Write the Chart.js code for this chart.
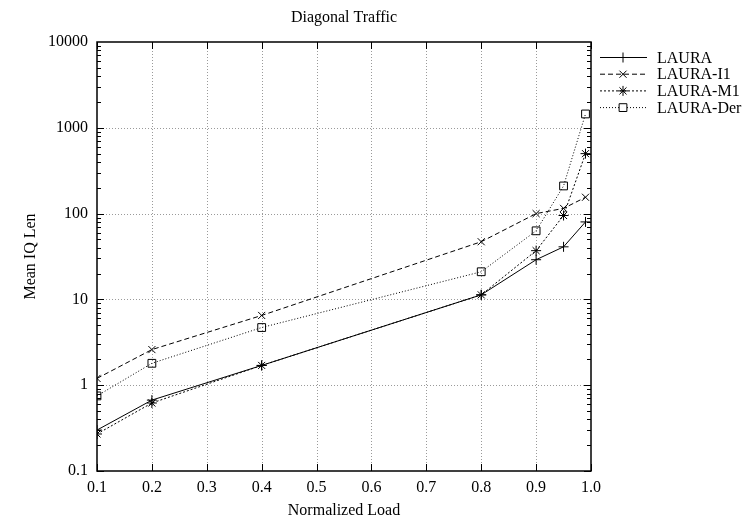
<!DOCTYPE html>
<html>
<head>
<meta charset="utf-8">
<script src="https://cdn.jsdelivr.net/npm/chart.js@4/dist/chart.umd.min.js"></script>
<style>
  html, body { margin: 0; padding: 0; background: #fff; }
  #wrap { width: 746px; height: 520px; }
</style>
</head>
<body>
<div id="wrap"><canvas id="chart" width="746" height="520"></canvas></div>
<script>
const loads = [0.1, 0.2, 0.4, 0.8, 0.9, 0.95, 0.99];
const laura = [0.30, 0.67, 1.7, 11.3, 29, 41, 80];
const lauraI1 = [1.2, 2.6, 6.5, 47, 100, 115, 155];
const lauraM1 = [0.27, 0.62, 1.7, 11.3, 37, 95, 500];
const lauraDer = [0.75, 1.8, 4.7, 21, 63, 210, 1450];
const xTicks = [0.1, 0.2, 0.3, 0.4, 0.5, 0.6, 0.7, 0.8, 0.9, 1.0];
const yTicks = [0.1, 1, 10, 100, 1000, 10000];

const FONT = "'Liberation Serif', 'DejaVu Serif', serif";
const pts = (ys) => loads.map((x, i) => ({ x, y: ys[i] }));

const series = [
  { label: "LAURA", data: laura, dash: [], style: "cross", r: 5 },
  { label: "LAURA-I1", data: lauraI1, dash: [5, 3], style: "crossRot", r: 5 },
  { label: "LAURA-M1", data: lauraM1, dash: [2, 2], style: "star", r: 5 },
  { label: "LAURA-Der", data: lauraDer, dash: [1, 2], style: "rect", r: 5.5 },
];

// inner ticks, dotted grid, frame and right-hand legend
const framePlugin = {
  id: "frame",
  beforeDatasetsDraw(chart) {
    const { ctx, chartArea: a, scales } = chart;
    const x = scales.x, y = scales.y;
    ctx.save();
    ctx.strokeStyle = "#9a9a9a";
    ctx.lineWidth = 1;
    ctx.setLineDash([1, 2]);
    xTicks.slice(1, -1).forEach((v) => {
      const px = Math.round(x.getPixelForValue(v)) + 0.5;
      ctx.beginPath(); ctx.moveTo(px, a.top); ctx.lineTo(px, a.bottom); ctx.stroke();
    });
    yTicks.slice(1, -1).forEach((v) => {
      const py = Math.round(y.getPixelForValue(v)) + 0.5;
      ctx.beginPath(); ctx.moveTo(a.left, py); ctx.lineTo(a.right, py); ctx.stroke();
    });
    ctx.setLineDash([]);
    ctx.strokeStyle = "#000";
    // y ticks, major and minor
    for (let d = 0.1; d < 10000; d *= 10) {
      for (let m = 1; m <= 9; m++) {
        const py = Math.round(y.getPixelForValue(d * m)) + 0.5;
        const len = m === 1 ? 7 : 4;
        ctx.beginPath();
        ctx.moveTo(a.left, py); ctx.lineTo(a.left + len, py);
        ctx.moveTo(a.right, py); ctx.lineTo(a.right - len, py);
        ctx.stroke();
      }
    }
    xTicks.forEach((v) => {
      const px = Math.round(x.getPixelForValue(v)) + 0.5;
      ctx.beginPath();
      ctx.moveTo(px, a.bottom); ctx.lineTo(px, a.bottom - 7);
      ctx.moveTo(px, a.top); ctx.lineTo(px, a.top + 7);
      ctx.stroke();
    });
    ctx.lineWidth = 1.5;
    ctx.strokeRect(a.left, a.top, a.right - a.left, a.bottom - a.top);
    ctx.restore();
  },
  afterDraw(chart) {
    const { ctx } = chart;
    ctx.save();
    ctx.font = "16px " + FONT;
    ctx.textBaseline = "middle";
    chart.data.datasets.forEach((ds, i) => {
      const ly = 57.5 + i * 16.7;
      ctx.strokeStyle = "#000";
      ctx.lineWidth = 1;
      ctx.setLineDash(ds.borderDash);
      ctx.beginPath(); ctx.moveTo(600, ly); ctx.lineTo(647, ly); ctx.stroke();
      ctx.setLineDash([]);
      ctx.fillStyle = "#fff";
      Chart.helpers.drawPoint(ctx, {
        pointStyle: ds.pointStyle, radius: ds.pointRadius, rotation: 0, borderWidth: 1,
      }, 623, ly);
      ctx.fillStyle = "#000";
      ctx.fillText(ds.label, 657, ly + 1);
    });
    ctx.restore();
  },
};

new Chart(document.getElementById("chart"), {
  type: "line",
  data: {
    datasets: series.map((s) => ({
      label: s.label,
      data: pts(s.data),
      borderColor: "#000",
      borderWidth: 1,
      borderDash: s.dash,
      pointStyle: s.style,
      pointRadius: s.r,
      pointBorderColor: "#000",
      pointBackgroundColor: "rgba(0,0,0,0)",
      pointBorderWidth: 1,
      tension: 0,
      fill: false,
    })),
  },
  options: {
    responsive: false,
    animation: false,
    layout: { padding: { left: 0, right: 155, top: 0, bottom: 0 } },
    plugins: {
      legend: { display: false },
      tooltip: { enabled: false },
      title: {
        display: true,
        text: "Diagonal Traffic",
        fullSize: false,
        color: "#000",
        font: { family: FONT, size: 16, weight: "normal", lineHeight: 1.2 },
        padding: { top: 8, bottom: 14.8 },
      },
    },
    scales: {
      x: {
        type: "linear",
        min: 0.1,
        max: 1.0,
        afterBuildTicks: (s) => { s.ticks = xTicks.map((v) => ({ value: v })); },
        afterFit: (s) => { s.height = 49; },
        grid: { display: false, drawTicks: false },
        border: { display: false },
        ticks: {
          color: "#000",
          padding: 7,
          font: { family: FONT, size: 16 },
          callback: (v) => v.toFixed(1),
        },
        title: {
          display: true,
          text: "Normalized Load",
          color: "#000",
          font: { family: FONT, size: 16 },
          padding: { top: 0, bottom: 0 },
        },
      },
      y: {
        type: "logarithmic",
        min: 0.1,
        max: 10000,
        afterBuildTicks: (s) => { s.ticks = yTicks.map((v) => ({ value: v })); },
        afterFit: (s) => { s.width = 97; },
        grid: { display: false, drawTicks: false },
        border: { display: false },
        ticks: {
          color: "#000",
          padding: 9,
          font: { family: FONT, size: 16 },
          callback: (v) => String(v),
        },
        title: {
          display: true,
          text: "Mean IQ Len",
          color: "#000",
          font: { family: FONT, size: 16 },
          padding: { top: 21, bottom: 0 },
        },
      },
    },
  },
  plugins: [framePlugin],
});
</script>
</body>
</html>
